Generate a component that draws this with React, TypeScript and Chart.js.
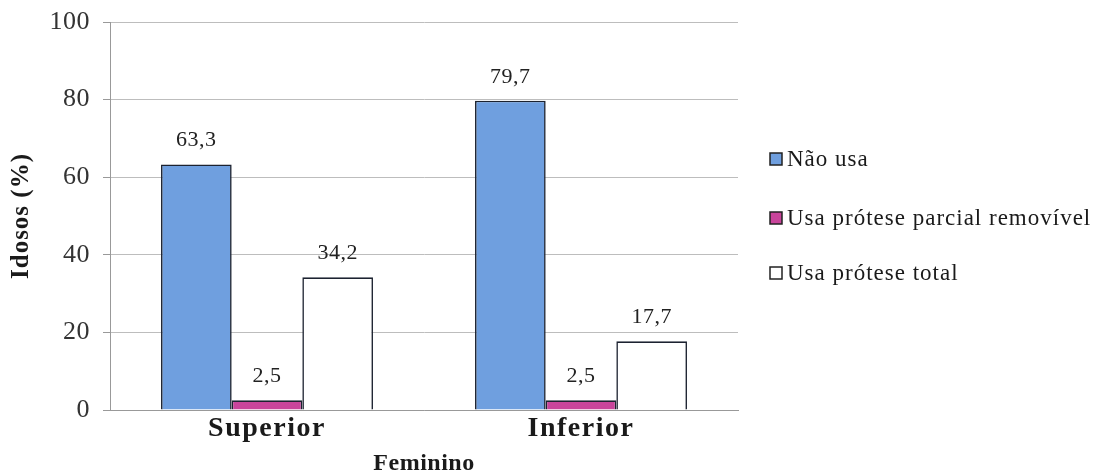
import React, { useEffect, useRef } from "react";
import { Chart, registerables } from "chart.js";

Chart.register(...registerables);

const categories = ["Superior", "Inferior"];
const seriesNames = ["Não usa", "Usa prótese parcial removível", "Usa prótese total"];
const naoUsa = [63.3, 79.7];
const parcial = [2.5, 2.5];
const total = [34.2, 17.7];
const yTicks = [0, 20, 40, 60, 80, 100];
const xTitle = "Feminino";
const yTitle = "Idosos (%)";

const FONT = "'Liberation Serif', 'Times New Roman', serif";
const colors = ["#6f9fdf", "#c9449b", "#ffffff"];

function withSpacing(ctx: CanvasRenderingContext2D, sp: string, fn: () => void) {
  const prev = (ctx as any).letterSpacing;
  (ctx as any).letterSpacing = sp;
  fn();
  (ctx as any).letterSpacing = prev || "0px";
}

const spacingPlugin = {
  id: "spacing",
  beforeDraw(chart: any) {
    const ctx = chart.ctx;
    const cfg: Record<string, [string, string]> = { x: ["1.5px", "0.5px"], y: ["0.5px", "1px"] };
    Object.keys(cfg).forEach((k) => {
      const s = chart.scales[k];
      if (!s || s.__patched) return;
      const dl = s.drawLabels.bind(s);
      const dt = s.drawTitle.bind(s);
      s.drawLabels = (a: any) => withSpacing(ctx, cfg[k][0], () => dl(a));
      s.drawTitle = (a: any) => withSpacing(ctx, cfg[k][1], () => dt(a));
      s.__patched = true;
    });
  },
};

const valueLabelPlugin = {
  id: "valueLabels",
  afterDatasetsDraw(chart: any) {
    const ctx = chart.ctx;
    ctx.save();
    (ctx as any).letterSpacing = "0.5px";
    ctx.font = `22px ${FONT}`;
    ctx.fillStyle = "#222";
    ctx.textAlign = "center";
    ctx.textBaseline = "middle";
    chart.data.datasets.forEach((ds: any, i: number) => {
      const meta = chart.getDatasetMeta(i);
      meta.data.forEach((el: any, j: number) => {
        const v = ds.data[j];
        ctx.fillText(v.toFixed(1).replace(".", ","), el.x, el.y - 24);
      });
    });
    ctx.restore();
  },
};

const legendPlugin = {
  id: "customLegend",
  afterDraw(chart: any) {
    const ctx = chart.ctx;
    ctx.save();
    (ctx as any).letterSpacing = "1px";
    ctx.font = `23px ${FONT}`;
    ctx.textBaseline = "middle";
    ctx.textAlign = "left";
    const rows = [159, 218, 273];
    const boxX = chart.chartArea.right + 32;
    seriesNames.forEach((name, i) => {
      const y = rows[i];
      ctx.fillStyle = colors[i];
      ctx.fillRect(boxX, y - 6, 12, 12);
      ctx.strokeStyle = "#222";
      ctx.lineWidth = 1.5;
      ctx.strokeRect(boxX, y - 6, 12, 12);
      ctx.fillStyle = "#1a1a1a";
      ctx.fillText(name, boxX + 17, y + 1);
    });
    ctx.restore();
  },
};

export default function App() {
  const ref = useRef<HTMLCanvasElement | null>(null);
  useEffect(() => {
    document.body.style.margin = "0";
    const canvas = ref.current!;
    const chart = new Chart(canvas, {
      type: "bar",
      data: {
        labels: categories,
        datasets: [
          { label: seriesNames[0], data: naoUsa, backgroundColor: colors[0], borderColor: "#1c2230", borderWidth: 1.6 },
          { label: seriesNames[1], data: parcial, backgroundColor: colors[1], borderColor: "#1c2230", borderWidth: 1.6 },
          { label: seriesNames[2], data: total, backgroundColor: colors[2], borderColor: "#1c2230", borderWidth: 1.6 },
        ],
      },
      options: {
        responsive: false,
        animation: false,
        maintainAspectRatio: false,
        layout: { padding: { top: 22, right: 357, bottom: 0, left: 0 } },
        plugins: { legend: { display: false }, tooltip: { enabled: false } },
        datasets: { bar: { categoryPercentage: 0.675, barPercentage: 1 } },
        scales: {
          x: {
            grid: { display: false },
            border: { display: true, color: "#999" },
            ticks: { padding: -6, color: "#1a1a1a", font: { family: FONT, size: 28, weight: "bold" } },
            title: {
              display: true,
              text: xTitle,
              color: "#1a1a1a",
              font: { family: FONT, size: 24, weight: "bold", lineHeight: 1.0 },
              padding: { top: 0, bottom: -3 },
            },
            afterFit: (s: any) => { s.height = 63; s.paddingLeft = 0; s.paddingRight = 0; },
          },
          y: {
            min: 0,
            max: 100,
            afterBuildTicks: (s: any) => { s.ticks = yTicks.map((v) => ({ value: v })); },
            grid: { color: "#bdbdbd", lineWidth: 1, tickLength: 7, tickColor: "#999" },
            border: { display: true, color: "#999" },
            ticks: { padding: 13, color: "#333", font: { family: FONT, size: 26 } },
            title: {
              display: true,
              text: yTitle,
              color: "#1a1a1a",
              font: { family: FONT, size: 25, weight: "bold" },
              padding: { top: 7, bottom: 0 },
            },
            afterFit: (s: any) => { s.width = 110; s.paddingTop = 0; s.paddingBottom = 0; },
          },
        },
      } as any,
      plugins: [spacingPlugin, valueLabelPlugin, legendPlugin],
    });
    return () => chart.destroy();
  }, []);
  return (
    <div style={{ position: "relative", width: 1095, height: 473, background: "#fff" }}>
      <canvas ref={ref} width={1095} height={473} style={{ display: "block" }} />
    </div>
  );
}
